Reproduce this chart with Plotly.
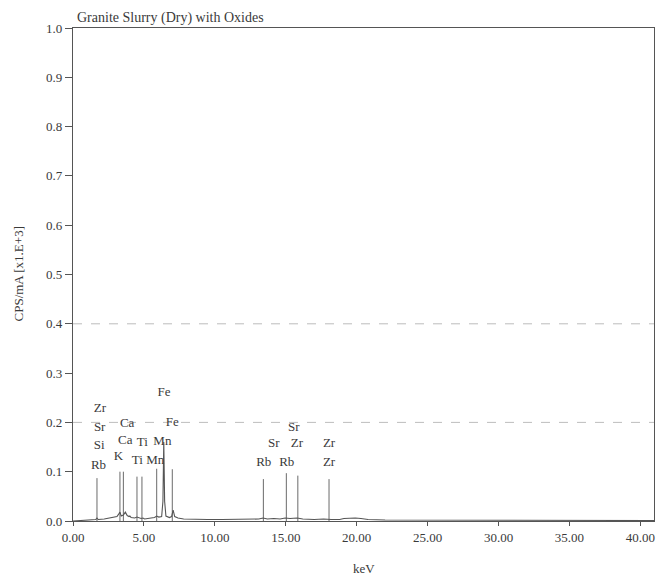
import plotly.graph_objects as go

# XRF spectrum: energy (keV) vs count rate (CPS/mA, x1.E+3)
spec_kev = [0.00, 0.80, 1.40, 1.60, 1.69, 1.78, 2.20, 2.60, 2.90, 3.10, 3.22, 3.31, 3.40,
            3.55, 3.69, 3.82, 3.95, 4.01, 4.10, 4.35, 4.51, 4.65, 4.80, 4.93, 5.05,
            5.50, 5.75, 5.90, 6.05, 6.25, 6.34, 6.40, 6.46, 6.55, 6.80, 6.95, 7.06,
            7.17, 7.40, 7.80, 8.60, 9.50, 10.50, 11.50, 12.50, 13.10, 13.40, 13.70,
            14.16, 14.60, 14.96, 15.30, 15.80, 16.20, 17.00, 17.67, 18.20, 18.80,
            19.10, 19.50, 19.90, 20.30, 20.80, 22.00, 25.00, 30.00, 35.00, 40.96]
spec_cps = [0.000, 0.001, 0.002, 0.003, 0.006, 0.003, 0.004, 0.006, 0.008, 0.009, 0.014, 0.018, 0.010,
            0.012, 0.018, 0.011, 0.009, 0.010, 0.007, 0.006, 0.008, 0.006, 0.005, 0.006, 0.004,
            0.006, 0.007, 0.010, 0.008, 0.009, 0.040, 0.160, 0.040, 0.010, 0.007, 0.009, 0.022,
            0.009, 0.006, 0.004, 0.003, 0.003, 0.003, 0.003, 0.004, 0.004, 0.006, 0.004,
            0.005, 0.004, 0.006, 0.005, 0.006, 0.004, 0.003, 0.004, 0.003, 0.003,
            0.005, 0.006, 0.006, 0.005, 0.003, 0.002, 0.002, 0.001, 0.001, 0.001]

# element line markers: energy and marker height
marker_kev = [1.69, 3.31, 3.55, 4.51, 4.86, 5.90, 7.00, 13.42, 15.04, 15.85, 18.05]
marker_top = [0.087, 0.100, 0.100, 0.090, 0.090, 0.106, 0.105, 0.085, 0.097, 0.092, 0.085]

# element labels: symbol, energy, label height
label_text = ["Zr", "Sr", "Si", "Rb", "K", "Ca", "Ca", "Ti", "Ti", "Mn", "Mn", "Fe", "Fe",
              "Sr", "Sr", "Zr", "Zr", "Rb", "Rb", "Zr"]
label_kev = [1.90, 1.88, 1.84, 1.80, 3.20, 3.82, 3.68, 4.88, 4.53, 6.30, 5.80, 6.42, 7.00,
             15.57, 14.16, 15.78, 18.05, 13.45, 15.07, 18.05]
label_y = [0.228, 0.190, 0.152, 0.112, 0.130, 0.197, 0.163, 0.159, 0.122, 0.161, 0.122, 0.260, 0.200,
           0.190, 0.156, 0.156, 0.156, 0.118, 0.118, 0.118]

x_ticks = [0, 5, 10, 15, 20, 25, 30, 35, 40]
y_ticks = [0.0, 0.1, 0.2, 0.3, 0.4, 0.5, 0.6, 0.7, 0.8, 0.9, 1.0]
grid_levels = [0.2, 0.4]

FONT = "Liberation Serif, Times New Roman, serif"
INK = "#3a3a3a"

fig = go.Figure()

# vertical marker segments
mx, my = [], []
for e, h in zip(marker_kev, marker_top):
    mx += [e, e, None]
    my += [0, h, None]
fig.add_trace(go.Scatter(x=mx, y=my, mode="lines",
                         line=dict(color="#6a6a6a", width=1), hoverinfo="skip"))

# spectrum
fig.add_trace(go.Scatter(x=spec_kev, y=spec_cps, mode="lines",
                         line=dict(color="#555555", width=1.1)))

# labels
fig.add_trace(go.Scatter(x=label_kev, y=label_y, mode="text", text=label_text,
                         textfont=dict(family=FONT, size=13, color=INK),
                         textposition="middle center", hoverinfo="skip"))

for g in grid_levels:
    fig.add_shape(type="line", xref="paper", x0=0, x1=1, yref="y", y0=g, y1=g,
                  line=dict(color="#bdbdbd", width=1, dash="dash"), layer="below")

fig.add_annotation(text="Granite Slurry (Dry) with Oxides", xref="paper", yref="paper",
                   x=0.003, y=1, xanchor="left", yanchor="bottom", yshift=0,
                   showarrow=False, font=dict(family=FONT, size=14, color=INK))
fig.add_annotation(text="keV", xref="paper", yref="paper", x=0.5, y=0,
                   xanchor="center", yanchor="middle", yshift=-47,
                   showarrow=False, font=dict(family=FONT, size=13, color=INK))
fig.add_annotation(text="CPS/mA [x1.E+3]", xref="paper", yref="paper", x=0, y=0.5,
                   xanchor="center", yanchor="middle", xshift=-55, textangle=-90,
                   showarrow=False, font=dict(family=FONT, size=13, color=INK))

fig.update_layout(
    width=657, height=580,
    margin=dict(l=73, r=3, t=28, b=59),
    paper_bgcolor="white", plot_bgcolor="white",
    showlegend=False,
    font=dict(family=FONT, size=13, color=INK),
    xaxis=dict(range=[0, 40.96], tickvals=x_ticks,
               ticktext=[f"{v:.2f}" for v in x_ticks],
               showgrid=False, zeroline=False, showline=True, mirror=True,
               linecolor="#555555", linewidth=1.3, ticks="outside", ticklen=4,
               tickcolor="#555555", tickfont=dict(family=FONT, size=13, color=INK)),
    yaxis=dict(range=[0, 1.0], tickvals=y_ticks,
               ticktext=[f"{v:.1f}" for v in y_ticks],
               showgrid=False, zeroline=False, showline=True, mirror=True,
               linecolor="#555555", linewidth=1.3, ticks="outside", ticklen=7,
               tickcolor="#555555", tickfont=dict(family=FONT, size=13, color=INK)),
)

fig.write_html("out.html")
